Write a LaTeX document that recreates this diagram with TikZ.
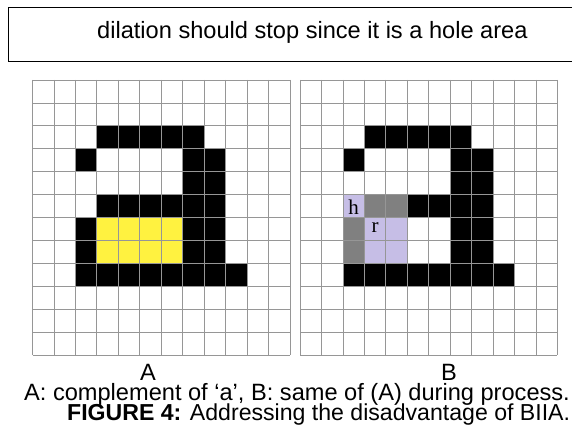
\documentclass[tikz,border=0pt]{standalone}
\usepackage{fontspec}
\setmainfont{Liberation Sans}
\newfontfamily\serifpix{Liberation Serif}
\usetikzlibrary{positioning}
\definecolor{holeyellow}{RGB}{255,242,64}
\definecolor{regionlav}{RGB}{198,190,230}
\definecolor{seedgray}{RGB}{128,128,128}
\definecolor{gridgray}{RGB}{150,150,150}
\newcommand{\pixW}{21.45}
\newcommand{\pixH}{22.92}
\newcommand{\gridTop}{80}
% one pixel of a grid: #1 = left of grid, #2 = column, #3 = row, #4 = colour
\newcommand{\pix}[4]{\fill[#4] ({#1+#2*\pixW},{\gridTop+#3*\pixH}) rectangle +(\pixW,\pixH);}

\begin{document}
\begin{tikzpicture}[
  x=1pt, y=-1pt,
  gridline/.style={gridgray, line width=0.8pt},
  big/.style={font=\fontsize{23.6}{28}\selectfont},
  pixtxt/.style={font=\serifpix\fontsize{21}{24}\selectfont, inner sep=0pt},
]
  \useasboundingbox (0,0) rectangle (572,443);
  % Note box
  \draw[line width=1.3pt] (8.5,7.5) rectangle (590,61.5);
  \node[big, anchor=base west, inner sep=0pt] (note) at (97,39)
    {dilation should stop since it is a hole area};
  % Grid A
  \foreach \row/\from/\to in {2/3/7, 3/7/8, 4/7/8, 5/3/8, 6/7/8, 7/7/8, 8/2/9}
    \foreach \col in {\from,...,\to} {\pix{32.5}{\col}{\row}{black}}
  \foreach \row in {3,6,7} {\pix{32.5}{2}{\row}{black}}
  \foreach \row in {6,7}
    \foreach \col in {3,...,6} {\pix{32.5}{\col}{\row}{holeyellow}}
  \foreach \i in {0,...,12} {
    \draw[gridline] ({32.5+\i*\pixW},\gridTop) -- ++(0,{12*\pixH});
    \draw[gridline] (32.5,{\gridTop+\i*\pixH}) -- ++({12*\pixW},0);
  }
  % Grid B
  \foreach \row/\from/\to in {2/3/7, 3/7/8, 4/7/8, 5/5/8, 6/7/8, 7/7/8, 8/2/9}
    \foreach \col in {\from,...,\to} {\pix{300}{\col}{\row}{black}}
  \pix{300}{2}{3}{black}
  \foreach \col/\row in {3/5, 4/5, 2/6, 2/7} {\pix{300}{\col}{\row}{seedgray}}
  \foreach \col/\row in {2/5, 3/6, 4/6, 3/7, 4/7} {\pix{300}{\col}{\row}{regionlav}}
  \foreach \i in {0,...,12} {
    \draw[gridline] ({300+\i*\pixW},\gridTop) -- ++(0,{12*\pixH});
    \draw[gridline] (300,{\gridTop+\i*\pixH}) -- ++({12*\pixW},0);
  }
  \node[pixtxt] (hpix) at ({300+2.5*\pixW},{\gridTop+5.55*\pixH}) {h};
  \node[pixtxt] (rpix) at ({300+3.5*\pixW},{\gridTop+6.45*\pixH}) {r};
  % Labels and caption
  \node[big, anchor=base, inner sep=0pt] (labA) at (148,380) {A};
  \node[big, anchor=base, inner sep=0pt] (labB) at (449,380) {B};
  \node[big, anchor=base west, inner sep=0pt] (capline) at (24,400)
    {A: complement of `a', B: same of (A) during process.};
  \node[font=\fontsize{23.1}{28}\selectfont, anchor=base west, inner sep=0pt]
    (figcap) at (67,420)
    {\textbf{FIGURE 4:} Addressing the disadvantage of BIIA.};
\end{tikzpicture}
\end{document}
